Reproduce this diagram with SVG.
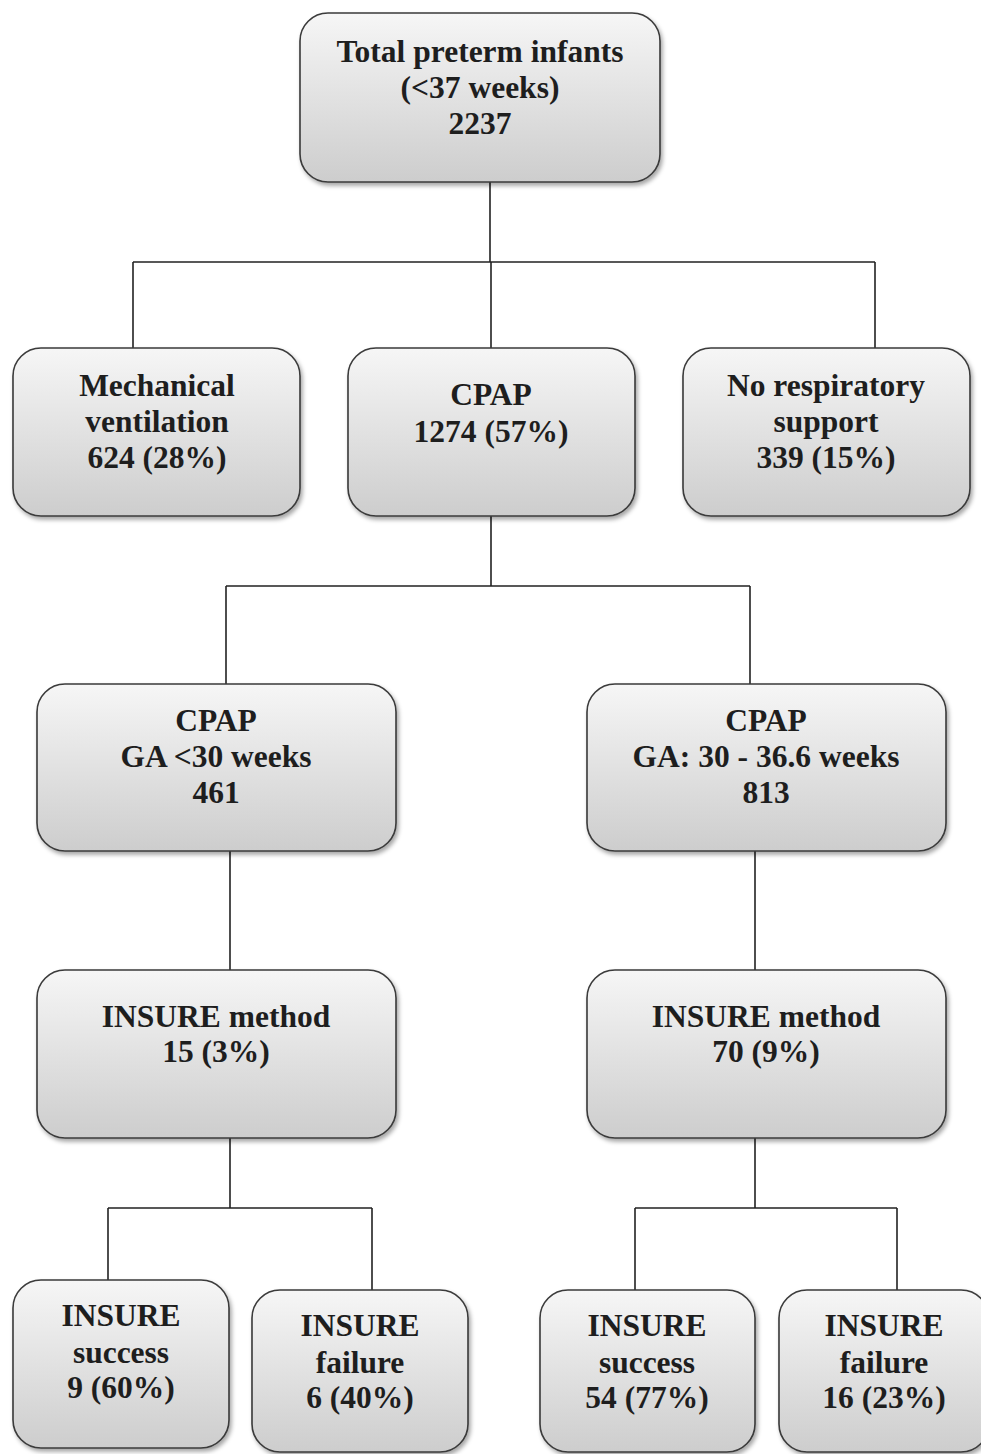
<svg xmlns="http://www.w3.org/2000/svg" width="981" height="1454" viewBox="0 0 981 1454">
<style>
.box{fill:url(#g);stroke:#3a3a3a;stroke-width:1.6;filter:url(#sh)}
.t{font-family:"Liberation Serif","Times New Roman",serif;font-weight:bold;font-size:31.5px;fill:#1e1e1e;text-anchor:middle}
.c{fill:none;stroke:#222;stroke-width:1.6}
</style>
<defs>
<linearGradient id="g" x1="0" y1="0" x2="0" y2="1">
<stop offset="0" stop-color="#f6f6f6"/>
<stop offset="1" stop-color="#cdcdcd"/>
</linearGradient>
<filter id="sh" x="-10%" y="-10%" width="125%" height="130%">
<feDropShadow dx="2" dy="3" stdDeviation="2" flood-color="#000" flood-opacity="0.35"/>
</filter>
</defs>
<rect width="981" height="1454" fill="#fff"/>
<g id="connectors">
<path class="c" d="M490 182V262M133 262H875M133 262V348M875 262V348M491 262V348"/>
<path class="c" d="M491 516V586M226 586H750M226 586V684M750 586V684"/>
<path class="c" d="M230 851V970M755 851V970"/>
<path class="c" d="M230 1138V1208M108 1208H372M108 1208V1280M372 1208V1290"/>
<path class="c" d="M755 1138V1208M635 1208H897M635 1208V1290M897 1208V1290"/>
</g>
<g id="n-total"><rect class="box" x="300" y="13" width="360" height="169" rx="28"/>
<text class="t" x="480" y="62">Total preterm infants</text><text class="t" x="480" y="98">(&lt;37 weeks)</text><text class="t" x="480" y="134">2237</text></g>
<g id="n-mech"><rect class="box" x="13" y="348" width="287" height="168" rx="28"/>
<text class="t" x="157" y="396">Mechanical</text><text class="t" x="157" y="432">ventilation</text><text class="t" x="157" y="468">624 (28%)</text></g>
<g id="n-cpap"><rect class="box" x="348" y="348" width="287" height="168" rx="28"/>
<text class="t" x="491" y="405">CPAP</text><text class="t" x="491" y="442">1274 (57%)</text></g>
<g id="n-none"><rect class="box" x="683" y="348" width="287" height="168" rx="28"/>
<text class="t" x="826" y="396">No respiratory</text><text class="t" x="826" y="432">support</text><text class="t" x="826" y="468">339 (15%)</text></g>
<g id="n-cpap30"><rect class="box" x="37" y="684" width="359" height="167" rx="28"/>
<text class="t" x="216" y="731">CPAP</text><text class="t" x="216" y="767">GA &lt;30 weeks</text><text class="t" x="216" y="803">461</text></g>
<g id="n-cpap36"><rect class="box" x="587" y="684" width="359" height="167" rx="28"/>
<text class="t" x="766" y="731">CPAP</text><text class="t" x="766" y="767">GA: 30 - 36.6 weeks</text><text class="t" x="766" y="803">813</text></g>
<g id="n-ins1"><rect class="box" x="37" y="970" width="359" height="168" rx="28"/>
<text class="t" x="216" y="1027">INSURE method</text><text class="t" x="216" y="1062">15 (3%)</text></g>
<g id="n-ins2"><rect class="box" x="587" y="970" width="359" height="168" rx="28"/>
<text class="t" x="766" y="1027">INSURE method</text><text class="t" x="766" y="1062">70 (9%)</text></g>
<g id="n-s1"><rect class="box" x="13" y="1280" width="216" height="168" rx="28"/>
<text class="t" x="121" y="1326">INSURE</text><text class="t" x="121" y="1363">success</text><text class="t" x="121" y="1398">9 (60%)</text></g>
<g id="n-f1"><rect class="box" x="252" y="1290" width="216" height="162" rx="28"/>
<text class="t" x="360" y="1336">INSURE</text><text class="t" x="360" y="1373">failure</text><text class="t" x="360" y="1408">6 (40%)</text></g>
<g id="n-s2"><rect class="box" x="540" y="1290" width="215" height="162" rx="28"/>
<text class="t" x="647" y="1336">INSURE</text><text class="t" x="647" y="1373">success</text><text class="t" x="647" y="1408">54 (77%)</text></g>
<g id="n-f2"><rect class="box" x="779" y="1290" width="210" height="162" rx="28"/>
<text class="t" x="884" y="1336">INSURE</text><text class="t" x="884" y="1373">failure</text><text class="t" x="884" y="1408">16 (23%)</text></g>
</svg>
